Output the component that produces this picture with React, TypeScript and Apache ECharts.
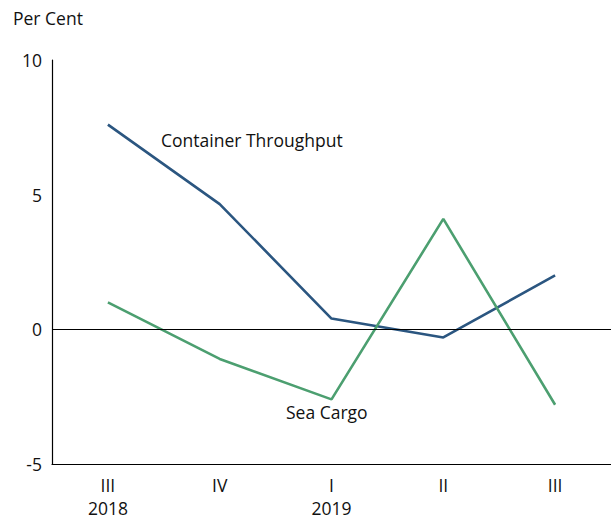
import React, { useEffect, useRef } from "react";
import * as echarts from "echarts";

const quarters = ["III\n2018", "IV", "I\n2019", "II", "III"];
const containerThroughput = [7.6, 4.65, 0.4, -0.3, 2.0];
const seaCargo = [1.0, -1.1, -2.6, 4.1, -2.8];
const yTicks = { min: -5, max: 10, interval: 5 };

const FONT = "'Open Sans', Roboto, sans-serif";
const FONT_SIZE = 17.5;
const BLUE = "#2b5680";
const GREEN = "#4c9f70";

export default function App() {
  const ref = useRef<HTMLDivElement>(null);

  useEffect(() => {
    if (!ref.current) return;
    const chart = echarts.init(ref.current, undefined, { renderer: "svg" });
    chart.setOption({
      animation: false,
      grid: { left: 52, right: 0, top: 60, bottom: 56, outerBoundsMode: "none", containLabel: false },
      xAxis: {
        type: "category",
        data: quarters,
        boundaryGap: true,
        axisLine: { onZero: false, lineStyle: { color: "#000", width: 1.2 } },
        axisTick: { show: false },
        axisLabel: {
          margin: 1,
          formatter: (value: string) => {
            const [quarter, year] = value.split("\n");
            return year ? `{q|${quarter}}\n{y|${year}}` : `{q|${quarter}}`;
          },
          rich: {
            q: { color: "#111", fontFamily: FONT, fontSize: FONT_SIZE, lineHeight: 40 },
            y: { color: "#111", fontFamily: FONT, fontSize: FONT_SIZE, lineHeight: 6 },
          },
        },
      },
      yAxis: {
        type: "value",
        min: yTicks.min,
        max: yTicks.max,
        interval: yTicks.interval,
        axisLine: { show: true, lineStyle: { color: "#000", width: 1.2 } },
        axisTick: { show: false },
        splitLine: { show: false },
        axisLabel: { color: "#111", fontFamily: FONT, fontSize: FONT_SIZE, margin: 10 },
      },
      graphic: [
        {
          type: "text",
          left: 13,
          top: 9,
          style: { text: "Per Cent", fontFamily: FONT, fontSize: FONT_SIZE, fill: "#111" },
        },
        {
          type: "text",
          left: 161,
          top: 131,
          style: { text: "Container Throughput", fontFamily: FONT, fontSize: FONT_SIZE, fill: "#111" },
        },
        {
          type: "text",
          left: 286,
          top: 403,
          style: { text: "Sea Cargo", fontFamily: FONT, fontSize: FONT_SIZE, fill: "#111" },
        },
      ],
      series: [
        {
          name: "Zero",
          type: "line",
          data: [],
          silent: true,
          markLine: {
            silent: true,
            symbol: "none",
            label: { show: false },
            lineStyle: { color: "#000", width: 1.2, type: "solid" },
            data: [{ yAxis: 0 }],
          },
        },
        {
          name: "Container Throughput",
          type: "line",
          data: containerThroughput,
          showSymbol: false,
          lineStyle: { color: BLUE, width: 2.6 },
          itemStyle: { color: BLUE },
        },
        {
          name: "Sea Cargo",
          type: "line",
          data: seaCargo,
          showSymbol: false,
          lineStyle: { color: GREEN, width: 2.6 },
          itemStyle: { color: GREEN },
        },
      ],
    });
    return () => chart.dispose();
  }, []);

  return (
    <div
      ref={ref}
      style={{ position: "fixed", left: 0, top: 0, width: 611, height: 520, background: "#fff" }}
    />
  );
}
